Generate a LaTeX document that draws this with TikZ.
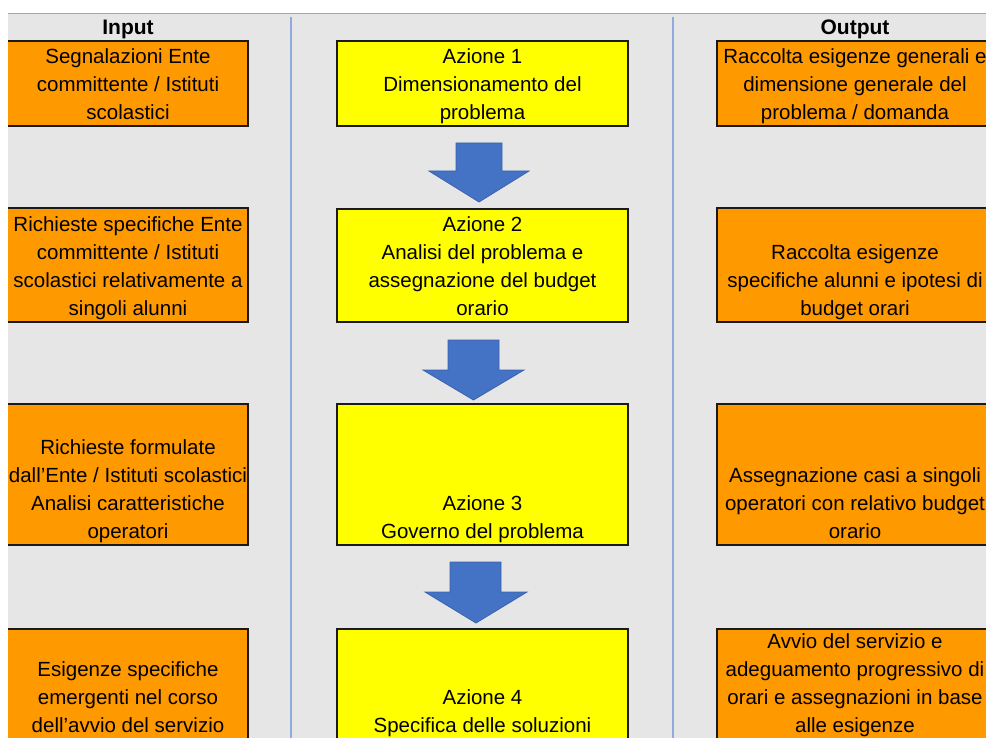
\documentclass[tikz,border=0pt]{standalone}
\usepackage{fontspec}
\setmainfont{Liberation Sans}
\definecolor{bggray}{HTML}{E6E6E6}
\definecolor{topline}{HTML}{A6A6A6}
\definecolor{sepblue}{HTML}{8FAADC}
\definecolor{boxorange}{HTML}{FF9900}
\definecolor{boxyellow}{HTML}{FFFF00}
\definecolor{arrowblue}{HTML}{4472C4}
\definecolor{arrowedge}{HTML}{3A63AD}
\definecolor{boxedge}{HTML}{1A1A1A}
\tikzset{
  basebox/.style={rectangle, draw=boxedge, line width=1.6pt, inner sep=0pt},
  obox/.style={basebox, fill=boxorange},
  ybox/.style={basebox, fill=boxyellow},
  lcol/.style={minimum width=248pt},
  mcol/.style={minimum width=291pt},
  rcol/.style={minimum width=283pt},
  boxtext/.style={align=center, inner sep=0pt, anchor=south, text depth=6pt,
    font=\fontsize{20.5}{28}\selectfont},
  header/.style={inner sep=0pt, font=\fontsize{21}{24}\selectfont\bfseries},
  sepline/.style={draw=sepblue, line width=2pt},
  barrow/.style={fill=arrowblue, draw=arrowedge, line width=0.8pt, line join=miter},
}
\begin{document}
\begin{tikzpicture}[x=1pt, y=-1pt]
\useasboundingbox (0,0) rectangle (986,738);
\fill[white] (0,0) rectangle (986,738);
\begin{scope}
\clip (8,13) rectangle (986,738);
\fill[bggray] (8,13) rectangle (986,738);
\draw[topline, line width=1.2pt] (8,13.5) -- (986,13.5);
\draw[sepline] (291,17) -- (291,738);
\draw[sepline] (673,17) -- (673,738);

\node[header] (hin) at (128,29) {Input};
\node[header] (hout) at (855,29) {Output};

% left column
\node[obox, lcol, minimum height=85pt] (l1) at (124,83.5) {};
\node[obox, lcol, minimum height=114pt] (l2) at (124,265) {};
\node[obox, lcol, minimum height=141pt] (l3) at (124,474.5) {};
\node[obox, lcol, minimum height=114pt] (l4) at (124,686) {};
% middle column
\node[ybox, mcol, minimum height=85pt] (m1) at (482.5,83.5) {};
\node[ybox, mcol, minimum height=113pt] (m2) at (482.5,265.5) {};
\node[ybox, mcol, minimum height=141pt] (m3) at (482.5,474.5) {};
\node[ybox, mcol, minimum height=114pt] (m4) at (482.5,686) {};
% right column
\node[obox, rcol, minimum height=85pt] (r1) at (858.5,83.5) {};
\node[obox, rcol, minimum height=114pt] (r2) at (858.5,265) {};
\node[obox, rcol, minimum height=141pt] (r3) at (858.5,474.5) {};
\node[obox, rcol, minimum height=114pt] (r4) at (858.5,686) {};

% texts
\node[boxtext] (l1t) at (128,126) {Segnalazioni Ente\\committente / Istituti\\scolastici};
\node[boxtext] (l2t) at (128,322) {Richieste specifiche Ente\\committente / Istituti\\scolastici relativamente a\\singoli alunni};
\node[boxtext] (l3t) at (128,545) {Richieste formulate\\dall'Ente / Istituti scolastici\\Analisi caratteristiche\\operatori};
\node[boxtext] (l4t) at (128,739) {Esigenze specifiche\\emergenti nel corso\\dell'avvio del servizio};

\node[boxtext] (m1t) at (482.5,126) {Azione 1\\Dimensionamento del\\problema};
\node[boxtext] (m2t) at (482.5,322) {Azione 2\\Analisi del problema e\\assegnazione del budget\\orario};
\node[boxtext] (m3t) at (482.5,545) {Azione 3\\Governo del problema};
\node[boxtext] (m4t) at (482.5,739) {Azione 4\\Specifica delle soluzioni};

\node[boxtext] (r1t) at (855,126) {Raccolta esigenze generali e\\dimensione generale del\\problema / domanda};
\node[boxtext] (r2t) at (855,322) {Raccolta esigenze\\specifiche alunni e ipotesi di\\budget orari};
\node[boxtext] (r3t) at (855,545) {Assegnazione casi a singoli\\operatori con relativo budget\\orario};
\node[boxtext] (r4t) at (855,739) {Avvio del servizio e\\adeguamento progressivo di\\orari e assegnazioni in base\\alle esigenze};

% block arrows
\draw[barrow] (456,143) -- (502,143) -- (502,171) -- (529,171) -- (479,202) -- (429,171) -- (456,171) -- cycle;
\draw[barrow] (448,340) -- (499,340) -- (499,370) -- (524,370) -- (473.5,400) -- (423,370) -- (448,370) -- cycle;
\draw[barrow] (450,562) -- (501,562) -- (501,592) -- (527,592) -- (476,623) -- (425,592) -- (450,592) -- cycle;
\end{scope}
\end{tikzpicture}
\end{document}
